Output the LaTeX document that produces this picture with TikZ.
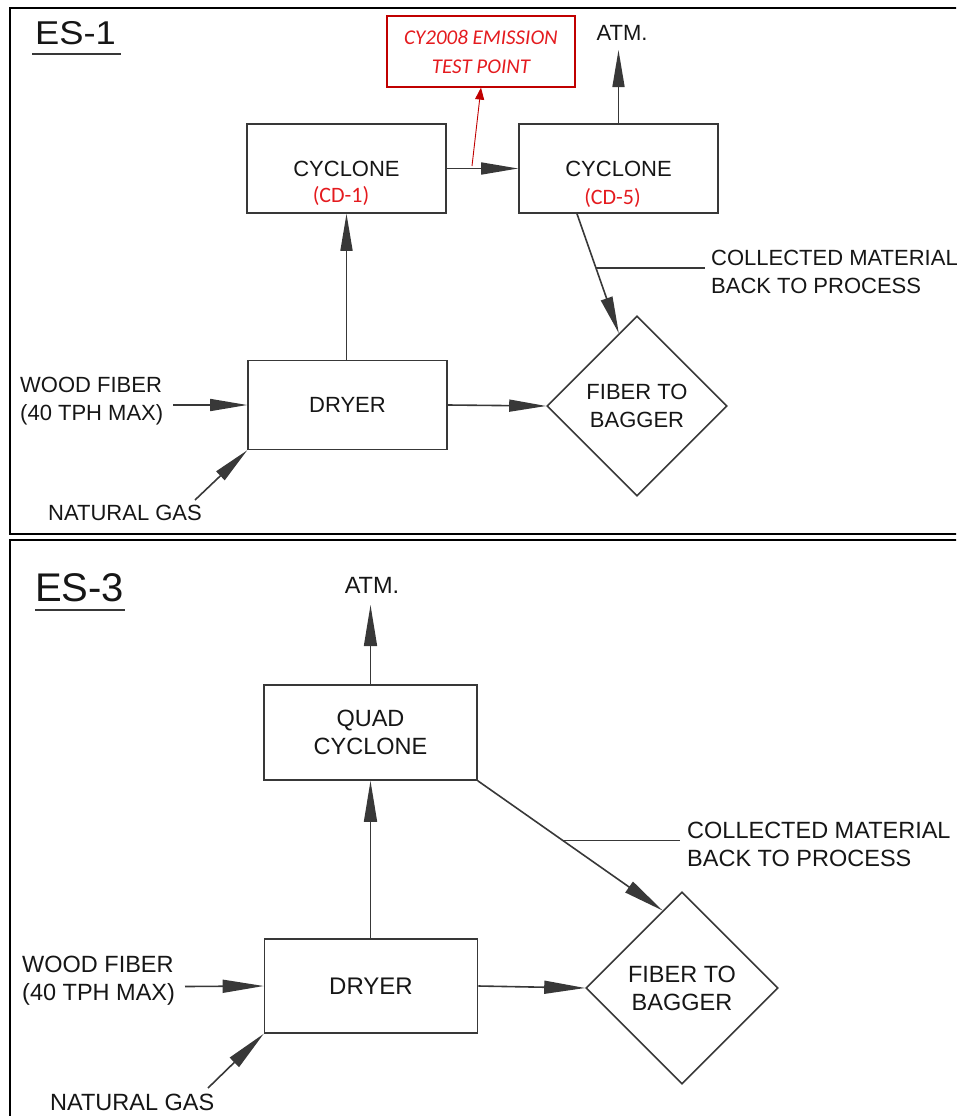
\documentclass[tikz,border=0pt]{standalone}
\usepackage{fontspec}
\setmainfont{Liberation Sans}
\newfontfamily\calibri{Carlito}
\usetikzlibrary{arrows.meta,shapes.geometric,calc}
\definecolor{ink}{HTML}{383838}
\definecolor{txt}{HTML}{161616}
\definecolor{mark}{HTML}{E41B1F}
\definecolor{markedge}{HTML}{C00000}
\begin{document}
\begin{tikzpicture}[x=1pt,y=-1pt,
  panel/.style={draw=black, line width=2.4pt},
  plain/.style={draw=ink, line width=1.6pt},
  flow/.style={plain, -{Triangle[length=37pt,width=12pt]}},
  flowb/.style={plain, -{Triangle[length=41pt,width=13pt]}},
  redflow/.style={draw=markedge, line width=0.9pt, -{Triangle[length=12pt,width=9pt]}},
  box/.style={draw=ink, line width=1.6pt, inner sep=0pt, text=txt, align=center},
  dia/.style={diamond, draw=ink, line width=1.6pt, inner sep=0pt, aspect=1, text=txt, align=center},
  lbl/.style={inner sep=0pt, text=txt},
  tag/.style={inner sep=0pt, text=mark, font=\calibri\fontsize{22}{26}\selectfont},
  title/.style={inner sep=0pt, text=txt, font=\fontsize{40}{44}\selectfont},
  topfont/.style={font=\fontsize{22}{28}\selectfont},
  botfont/.style={font=\fontsize{23.5}{28}\selectfont},
]
\useasboundingbox (0,0) rectangle (956,1116);
\clip (0,0) rectangle (956,1116);

% ---------------- ES-1 ----------------
\draw[panel] (10,8) rectangle (980,534);
\node[title, anchor=south west, font=\fontsize{33}{36}\selectfont] (es1) at (35,45) {\scalebox{1.1}[1]{ES-1}};
\draw[plain] ($(es1.south west)+(-3,9)$) -- ($(es1.south east)+(5,9)$);

\begin{scope}[topfont]
\node[box, minimum width=199pt, minimum height=89pt] (cyc1) at (346.5,168.5) {CYCLONE};
\node[tag] (cd1) at (341,196) {(CD-1)};
\node[box, minimum width=199pt, minimum height=89pt] (cyc5) at (618.5,168.5) {CYCLONE};
\node[tag] (cd5) at (612.5,198) {(CD-5)};

\node[box, draw=markedge, line width=1.2pt, minimum width=188pt, minimum height=71pt,
      text=mark, font=\calibri\itshape\fontsize{21}{29}\selectfont] (test) at (481,51.5)
      {CY2008 EMISSION\\TEST POINT};

\node[lbl] (atm1) at (622,33) {ATM.};
\coordinate (atm1p) at (618.5,50);

\node[box, minimum width=199pt, minimum height=89pt] (dry1) at (347.5,405) {DRYER};
\node[dia, minimum width=180pt, minimum height=180pt] (bag1) at (637,406) {FIBER TO\\BAGGER};

\node[lbl, align=left, anchor=west] (wood1) at (20,401) {WOOD FIBER\\(40 TPH MAX)};
\node[lbl, anchor=west] (gas1) at (48,513) {NATURAL GAS};
\node[lbl, align=left, anchor=west] (coll1) at (711,271.5) {COLLECTED MATERIAL\\BACK TO PROCESS};
\end{scope}

\coordinate (wf1) at (173,405);
\coordinate (ng1) at (195,500);
\coordinate (rp1) at (472,166);

\draw[flow] (cyc1.east) -- (cyc5.west);
\draw[flow] (cyc5.north) -- (atm1p);
\draw[flow] (dry1.north -| cyc1.south) -- (cyc1.south);
\draw[flow] (wf1) -- (dry1.west);
\draw[flow] (ng1) -- (dry1.south west);
\draw[flow] (dry1.east) -- (bag1.west);
\draw[redflow] (rp1) -- (test.south);

\coordinate (cs1) at ($(cyc5.south west)!0.293!(cyc5.south east)$);
\coordinate (ce1) at ($(bag1.north)!0.2!(bag1.west)$);
\draw[flow] (cs1) -- (ce1);
\coordinate (lk1) at ($(cs1)!0.455!(ce1)$);
\coordinate (le1) at (705,269);
\draw[plain] (lk1) -- (lk1 -| le1);

% ---------------- ES-3 ----------------
\draw[panel] (10,540) rectangle (980,1140);
\node[title, anchor=south west] (es3) at (35,602) {ES-3};
\draw[plain] ($(es3.south west)+(0,8)$) -- ($(es3.south east)+(1,8)$);

\begin{scope}[botfont]
\node[lbl] (atm3) at (372,585) {ATM.};
\coordinate (atm3p) at (370.5,605);

\node[box, minimum width=213pt, minimum height=95pt] (quad) at (370.5,732.5) {QUAD\\CYCLONE};
\node[box, minimum width=213pt, minimum height=94pt, font=\fontsize{24}{28}\selectfont] (dry3) at (371,986) {DRYER};
\node[dia, minimum width=192pt, minimum height=192pt] (bag3) at (682,988) {FIBER TO\\BAGGER};

\node[lbl, align=left, anchor=west] (wood3) at (22,981) {WOOD FIBER\\(40 TPH MAX)};
\node[lbl, anchor=west] (gas3) at (50,1102) {NATURAL GAS};
\node[lbl, align=left, anchor=west] (coll3) at (687,844) {COLLECTED MATERIAL\\BACK TO PROCESS};
\end{scope}

\coordinate (wf3) at (185,986.5);
\coordinate (ng3) at (208,1088);

\draw[flowb] (quad.north) -- (atm3p);
\draw[flowb] (dry3.north -| quad.south) -- (quad.south);
\draw[flowb] (wf3) -- (dry3.west);
\draw[flowb] (ng3) -- (dry3.south west);
\draw[flowb] (dry3.east) -- (bag3.west);

\coordinate (cs3) at (quad.south east);
\coordinate (ce3) at ($(bag3.north)!0.2!(bag3.west)$);
\draw[flowb] (cs3) -- (ce3);
\coordinate (lk3) at ($(cs3)!0.459!(ce3)$);
\coordinate (le3) at (680,841);
\draw[plain] (lk3) -- (lk3 -| le3);
\end{tikzpicture}
\end{document}
